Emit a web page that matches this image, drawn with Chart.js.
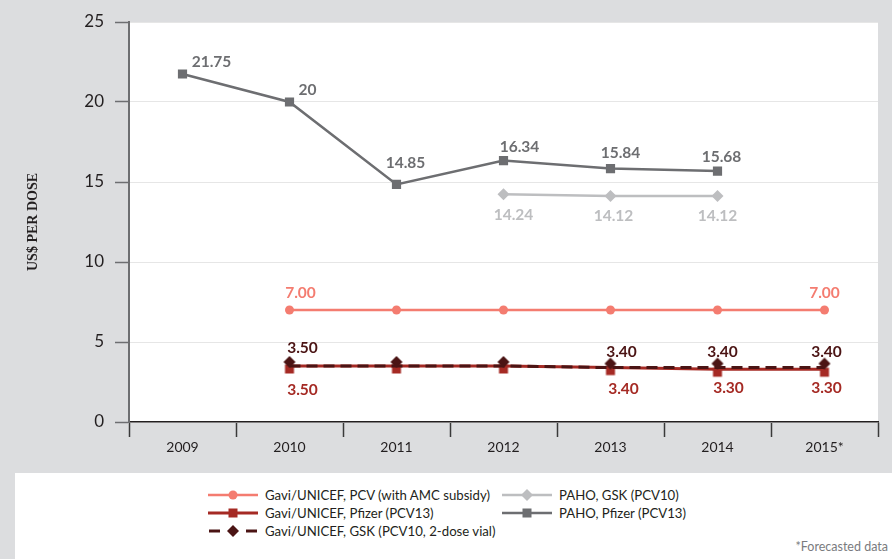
<!DOCTYPE html>
<html>
<head>
<meta charset="utf-8">
<script src="https://cdn.jsdelivr.net/npm/chart.js@4/dist/chart.umd.min.js"></script>
<style>
  html, body { margin: 0; padding: 0; }
  body { width: 892px; height: 559px; background: #dcdddf; position: relative; overflow: hidden; font-family: Lato, sans-serif; }
  #wrap { position: absolute; left: 0; top: 0; width: 892px; height: 473px; }
  #legend { position: absolute; left: 15px; top: 473px; width: 877px; height: 86px; background: #fff; }
  .item { position: absolute; height: 18px; display: flex; align-items: center; font-size: 13.2px; color: #231f20; white-space: nowrap; }
  .item svg { margin-right: 7px; }
  #note { position: absolute; right: 4px; top: 539px; font-size: 12.5px; color: #7a7b7e; }
</style>
</head>
<body>
<div id="wrap"><canvas id="chart" width="892" height="473"></canvas></div>
<div id="legend"></div>
<div id="note">*Forecasted data</div>
<script>
// categories and values
const years = ['2009', '2010', '2011', '2012', '2013', '2014', '2015*'];
const pahoPfizer = [21.75, 20, 14.85, 16.34, 15.84, 15.68, null];
const pahoGsk = [null, null, null, 14.24, 14.12, 14.12, null];
const gaviPcv = [null, 7.0, 7.0, 7.0, 7.0, 7.0, 7.0];
const gaviPfizer = [null, 3.5, 3.5, 3.5, 3.4, 3.3, 3.3];
const gaviGsk = [null, 3.5, 3.5, 3.5, 3.4, 3.4, 3.4];
const yTicks = [0, 5, 10, 15, 20, 25];

const C_SALMON = '#f47c70';
const C_RED = '#a52a24';
const C_MAROON = '#4b1414';
const C_LGRAY = '#bdbec0';
const C_DGRAY = '#6d6e71';

// marker drawn off-centre so the two overlapping series stay readable
function offsetMarker(kind, color, size, dy) {
	const c = document.createElement('canvas');
	c.width = 16; c.height = 30;
	const g = c.getContext('2d');
	g.fillStyle = color;
	const cx = 8, cy = 15 + dy;
	if (kind === 'diamond') {
		g.beginPath();
		g.moveTo(cx, cy - size); g.lineTo(cx + size, cy);
		g.lineTo(cx, cy + size); g.lineTo(cx - size, cy);
		g.closePath(); g.fill();
	} else {
		g.fillRect(cx - size, cy - size, size * 2, size * 2);
	}
	return c;
}

// labels: [index, dx, dy]
const labelSpots = {
	pahoPfizer: [[0, 29, -12], [1, 18, -12], [2, 9, -21], [3, 16, -14], [4, 10, -16], [5, 4, -14]],
	pahoGsk: [[3, 10, 21], [4, 3, 20], [5, 0, 20]],
	gaviPcv: [[1, 11, -17], [6, 0, -17]],
	gaviPfizer: [[1, 13, 24], [4, 13, 21], [5, 11, 19], [6, 2, 19]],
	gaviGsk: [[1, 13, -18], [4, 11, -16], [5, 5, -16], [6, 2, -16]],
};

const pointLabels = {
	id: 'pointLabels',
	afterDatasetsDraw(chart) {
		const ctx = chart.ctx;
		ctx.save();
		ctx.font = 'bold 15.5px Lato';
		ctx.textAlign = 'center';
		ctx.textBaseline = 'middle';
		chart.data.datasets.forEach((ds, i) => {
			const spots = labelSpots[ds.key] || [];
			const meta = chart.getDatasetMeta(i);
			ctx.fillStyle = ds.labelColor;
			spots.forEach(([idx, dx, dy]) => {
				const pt = meta.data[idx];
				const v = ds.data[idx];
				const txt = ds.key.startsWith('gavi') ? v.toFixed(2) : String(v);
				ctx.fillText(txt, pt.x + dx, pt.y + dy);
			});
		});
		ctx.restore();
	},
};

const plotBg = {
	id: 'plotBg',
	beforeDraw(chart) {
		const { ctx, chartArea: a } = chart;
		ctx.save();
		ctx.fillStyle = '#ffffff';
		ctx.fillRect(a.left, a.top, a.right - a.left, a.bottom - a.top);
		ctx.restore();
	},
};

const chart = new Chart(document.getElementById('chart'), {
	type: 'line',
	data: {
		labels: years,
		datasets: [
			{
				key: 'gaviGsk', label: 'Gavi/UNICEF, GSK (PCV10, 2-dose vial)', data: gaviGsk,
				borderColor: C_MAROON, borderWidth: 3, borderDash: [11, 6],
				pointStyle: offsetMarker('diamond', C_MAROON, 6, -4), labelColor: C_MAROON, order: 1,
			},
			{
				key: 'gaviPfizer', label: 'Gavi/UNICEF, Pfizer (PCV13)', data: gaviPfizer,
				borderColor: C_RED, borderWidth: 3,
				pointStyle: offsetMarker('square', C_RED, 4.5, 3), labelColor: C_RED, order: 2,
			},
			{
				key: 'gaviPcv', label: 'Gavi/UNICEF, PCV (with AMC subsidy)', data: gaviPcv,
				borderColor: C_SALMON, backgroundColor: C_SALMON, borderWidth: 2.5,
				pointStyle: 'circle', pointRadius: 4.5, labelColor: C_SALMON, order: 3,
			},
			{
				key: 'pahoGsk', label: 'PAHO, GSK (PCV10)', data: pahoGsk,
				borderColor: C_LGRAY, backgroundColor: C_LGRAY, borderWidth: 2.5,
				pointStyle: 'rectRot', pointRadius: 6, labelColor: C_LGRAY, order: 4,
			},
			{
				key: 'pahoPfizer', label: 'PAHO, Pfizer (PCV13)', data: pahoPfizer,
				borderColor: C_DGRAY, backgroundColor: C_DGRAY, borderWidth: 2.5,
				pointStyle: 'rect', pointRadius: 6.5, labelColor: C_DGRAY, order: 5,
			},
		].map((d) => ({ ...d, tension: 0, fill: false, spanGaps: false, pointBorderWidth: 0, pointHoverRadius: d.pointRadius || 3 })),
	},
	options: {
		responsive: false,
		animation: false,
		layout: { padding: { left: 20, right: 14, top: 22, bottom: 0 } },
		plugins: { legend: { display: false }, tooltip: { enabled: false } },
		elements: { point: { radius: 8 } },
		scales: {
			x: {
				offset: true,
				grid: { offset: true, drawOnChartArea: false, tickLength: 15, tickColor: '#3a3a3a', tickWidth: 1.5 },
				border: { color: '#231f20', width: 1.5 },
				ticks: { color: '#231f20', font: { family: 'Lato', size: 14 }, padding: 2, maxRotation: 0 },
				afterFit(s) { s.height = 51; },
			},
			y: {
				min: 0, max: 25,
				afterBuildTicks(s) { s.ticks = yTicks.map((v) => ({ value: v })); },
				grid: { color: '#e6e6e6', lineWidth: 1, tickLength: 14, tickColor: C_DGRAY, tickWidth: 1.5 },
				border: { color: C_DGRAY, width: 2 },
				ticks: { color: '#231f20', font: { family: 'Lato', size: 17 }, padding: 11 },
				title: {
					display: true, text: 'US$ PER DOSE', color: '#231f20',
					font: { family: 'Liberation Serif', size: 14, weight: 'bold' }, padding: { top: 5, bottom: 0 },
				},
				afterFit(s) { s.width = 109; },
			},
		},
	},
	plugins: [plotBg, pointLabels],
});

// legend below the chart
const legendItems = [
	{ ds: 'gaviPcv', x: 193, y: 13, marker: 'circle', color: C_SALMON, w: 2.5 },
	{ ds: 'gaviPfizer', x: 193, y: 31, marker: 'square', color: C_RED, w: 3 },
	{ ds: 'gaviGsk', x: 193, y: 49, marker: 'diamond', color: C_MAROON, w: 3, dashed: true },
	{ ds: 'pahoGsk', x: 487, y: 13, marker: 'diamond', color: C_LGRAY, w: 2.5 },
	{ ds: 'pahoPfizer', x: 487, y: 31, marker: 'square', color: C_DGRAY, w: 2.5 },
];
function markerSvg(m, color) {
	if (m === 'circle') return `<circle cx="25" cy="9" r="4.5" fill="${color}"/>`;
	if (m === 'square') return `<rect x="20.5" y="4.5" width="9" height="9" fill="${color}"/>`;
	return `<polygon points="25,3 31,9 25,15 19,9" fill="${color}"/>`;
}
const legendEl = document.getElementById('legend');
legendItems.forEach((it) => {
	const ds = chart.data.datasets.find((d) => d.key === it.ds);
	const div = document.createElement('div');
	div.className = 'item';
	div.style.left = it.x + 'px';
	div.style.top = it.y + 'px';
	const line = it.dashed
		? `<line x1="1" y1="9" x2="12" y2="9" stroke="${it.color}" stroke-width="${it.w}"/><line x1="38" y1="9" x2="49" y2="9" stroke="${it.color}" stroke-width="${it.w}"/>`
		: `<line x1="0" y1="9" x2="50" y2="9" stroke="${it.color}" stroke-width="${it.w}"/>`;
	div.innerHTML = `<svg width="50" height="18">${line}${markerSvg(it.marker, it.color)}</svg><span>${ds.label}</span>`;
	legendEl.appendChild(div);
});
</script>
</body>
</html>
